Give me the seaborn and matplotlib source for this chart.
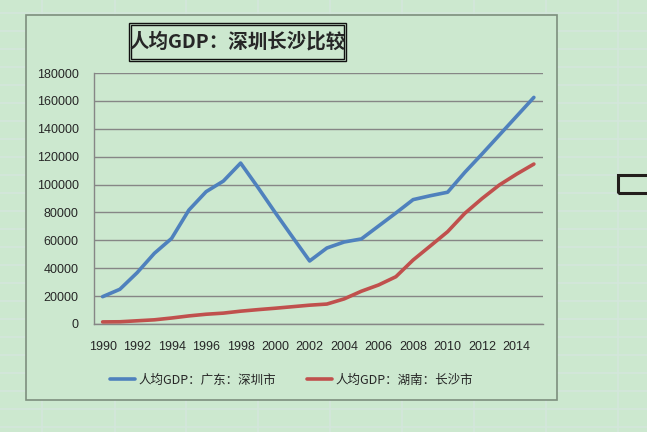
import matplotlib
matplotlib.use("Agg")
import matplotlib.pyplot as plt
from matplotlib.patches import Rectangle
from matplotlib.lines import Line2D
import seaborn as sns
import pandas as pd
import numpy as np

years = list(range(1990, 2016))
shenzhen = [19600, 24900, 36800, 50700, 61400, 81700, 94900, 102500, 115400,
            98000, 80000, 62500, 45200, 54500, 58800, 61000, 70300, 79600,
            89200, 92000, 94500, 108800, 122000, 135500, 149000, 162500]
changsha = [1500, 1600, 2300, 3000, 4300, 5800, 7000, 7800, 9200, 10300,
            11300, 12400, 13500, 14300, 18000, 23500, 28000, 33900, 45900,
            56000, 66200, 79400, 90000, 99700, 107500, 114700]
series_names = ["人均GDP：广东：深圳市", "人均GDP：湖南：长沙市"]
title = "人均GDP：深圳长沙比较"
yticks = list(range(0, 180001, 20000))
xlabels = list(range(1990, 2015, 2))

df = pd.DataFrame({
    "year": years * 2,
    "value": shenzhen + changsha,
    "series": [series_names[0]] * len(years) + [series_names[1]] * len(years),
})

sns.set_theme(style="white")
plt.rcParams['font.family'] = ['Liberation Sans', 'Noto Sans CJK SC', 'DejaVu Sans']

W, H = 647, 432
bg = "#cce8cf"
fig = plt.figure(figsize=(W / 100, H / 100), dpi=100)
fig.patch.set_facecolor(bg)

# spreadsheet cell lines
cell_col = "#d4e6dc"
for x in [42, 115, 186, 258, 330, 402, 474, 546, 618]:
    fig.add_artist(Line2D([x / W, x / W], [0, 1], color=cell_col, lw=1.2, zorder=0))
for y in range(13, H, 18):
    fig.add_artist(Line2D([0, 1], [1 - y / H, 1 - y / H], color=cell_col, lw=1.2, zorder=0))

# chart area
cx0, cx1, cy0, cy1 = 26, 557, 15, 400
fig.add_artist(Rectangle((cx0 / W, 1 - cy1 / H), (cx1 - cx0) / W, (cy1 - cy0) / H,
                         facecolor=bg, edgecolor="#7d8f7e", lw=1.2, zorder=1))

# selected cell
fig.add_artist(Rectangle((618 / W, 1 - 193 / H), 40 / W, 18 / H,
                         facecolor="none", edgecolor="#231f1c", lw=2.2, zorder=2))

ax_l, ax_r, ax_t, ax_b = 94, 542.5, 73, 324
ax = fig.add_axes([ax_l / W, 1 - ax_b / H, (ax_r - ax_l) / W, (ax_b - ax_t) / H], zorder=3)
ax.set_facecolor("none")

sns.lineplot(data=df, x="year", y="value", hue="series",
             palette=["#4f81bd", "#c0504d"], linewidth=2.6, ax=ax,
             legend=False, zorder=4)

ax.set_xlim(1989.5, 2015.5)
ax.set_ylim(0, 180000)
ax.set_yticks(yticks)
ax.set_yticklabels([str(v) for v in yticks], fontsize=9)
ax.yaxis.grid(True, color="#868686", lw=1.0)
ax.set_axisbelow(True)

ax.set_xticks(np.arange(1989.5, 2016, 2))
ax.set_xticklabels([])
ax.set_xticks(xlabels, minor=True)
ax.set_xticklabels([str(v) for v in xlabels], minor=True, fontsize=9)
ax.tick_params(axis="x", which="major", direction="out", length=5, color="#868686", width=1)
ax.tick_params(axis="x", which="minor", length=0, pad=12)
ax.tick_params(axis="y", direction="out", length=5, color="#868686", width=1, pad=6)
ax.set_xlabel("")
ax.set_ylabel("")
for s in ["top", "right"]:
    ax.spines[s].set_visible(False)
for s in ["left", "bottom"]:
    ax.spines[s].set_color("#868686")
    ax.spines[s].set_linewidth(1.0)

# title with double border
fig.text(237.5 / W, 1 - 42 / H, title, ha="center", va="center", fontsize=14,
         fontweight="bold", family=['Noto Sans CJK SC'], zorder=5)
fig.add_artist(Rectangle((129 / W, 1 - 61 / H), (346 - 129) / W, (61 - 23) / H,
                         facecolor="none", edgecolor="#111111", lw=1.0, zorder=5))
fig.add_artist(Rectangle((131 / W, 1 - 59 / H), (344 - 131) / W, (59 - 25) / H,
                         facecolor="none", edgecolor="#111111", lw=1.0, zorder=5))

# legend
handles = [Line2D([], [], color="#4f81bd", lw=2.6), Line2D([], [], color="#c0504d", lw=2.6)]
leg = fig.legend(handles, series_names, loc="center", bbox_to_anchor=(291.5 / W, 1 - 380 / H),
                 ncol=2, frameon=False, handlelength=2.0, handletextpad=0.3,
                 columnspacing=2.5, prop={'family': ['Noto Sans CJK SC'], 'size': 9})

fig.savefig("out.png", dpi=100, facecolor=bg)
